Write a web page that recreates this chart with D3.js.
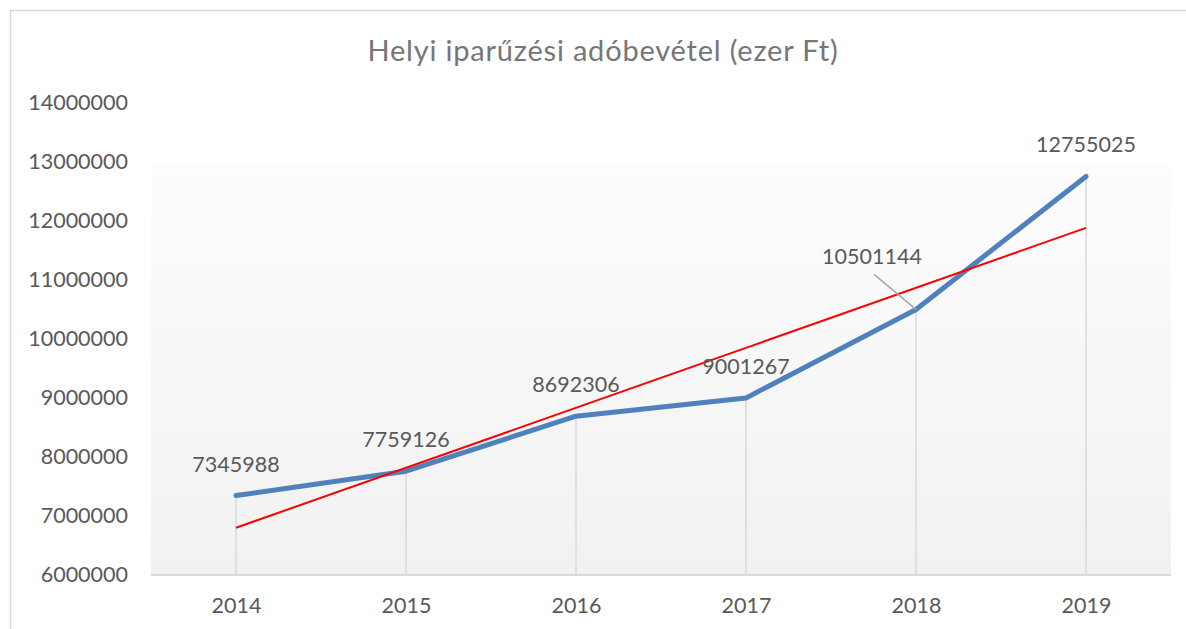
<!DOCTYPE html>
<html>
<head>
<meta charset="utf-8">
<script src="https://cdn.jsdelivr.net/npm/d3@7"></script>
<style>
  html, body { margin: 0; padding: 0; background: #fff; }
  svg { display: block; font-family: Lato, "Liberation Sans", sans-serif; }
</style>
</head>
<body>
<svg id="chart" width="1186" height="629"></svg>
<script>
const title = "Helyi iparűzési adóbevétel (ezer Ft)";
const years = ["2014", "2015", "2016", "2017", "2018", "2019"];
const revenue = [7345988, 7759126, 8692306, 9001267, 10501144, 12755025];
const yTicks = [6000000, 7000000, 8000000, 9000000, 10000000, 11000000, 12000000, 13000000, 14000000];

const svg = d3.select("#chart");
const W = 1186, H = 629;
const plot = { left: 151, right: 1171, top: 103, bottom: 575 };
const textColor = "#595959";

// outer chart frame
svg.append("rect")
  .attr("x", 10.5).attr("y", 10.5)
  .attr("width", W).attr("height", H)
  .attr("fill", "#fff").attr("stroke", "#d9d9d9").attr("stroke-width", 1.5);

const x = d3.scalePoint().domain(years).range([plot.left, plot.right]).padding(0.5);
const y = d3.scaleLinear().domain([6000000, 14000000]).range([plot.bottom, plot.top]);

// soft vertical gradient in the plot area
const defs = svg.append("defs");
const grad = defs.append("linearGradient").attr("id", "plotBg")
  .attr("x1", 0).attr("y1", 0).attr("x2", 0).attr("y2", 1);
grad.append("stop").attr("offset", "0%").attr("stop-color", "#fdfdfd");
grad.append("stop").attr("offset", "100%").attr("stop-color", "#f1f1f1");
svg.append("rect")
  .attr("x", plot.left).attr("y", y(12950000))
  .attr("width", plot.right - plot.left).attr("height", plot.bottom - y(12950000))
  .attr("fill", "url(#plotBg)");

// title
svg.append("text")
  .attr("x", 603).attr("y", 61)
  .attr("text-anchor", "middle")
  .attr("font-size", 29)
  .attr("letter-spacing", 0.8)
  .attr("fill", "#767676")
  .text(title);

// y axis labels (no line)
const yAxis = d3.axisLeft(y).tickValues(yTicks).tickSize(0).tickPadding(0).tickFormat(d3.format("d"));
const gy = svg.append("g").attr("transform", `translate(${plot.left - 23},0)`).call(yAxis);
gy.select(".domain").remove();
gy.selectAll("text").attr("font-size", 21.5).attr("fill", textColor).attr("font-family", "Lato, 'Liberation Sans', sans-serif");

// x axis
const xAxis = d3.axisBottom(x).tickSize(0).tickPadding(0);
const gx = svg.append("g").attr("transform", `translate(0,${plot.bottom})`).call(xAxis);
gx.select(".domain").attr("d", `M${plot.left},0H${plot.right}`).attr("stroke", "#d9d9d9").attr("stroke-width", 2);
gx.selectAll("text").attr("font-size", 21.5).attr("fill", textColor)
  .attr("dy", 0).attr("y", 38).attr("font-family", "Lato, 'Liberation Sans', sans-serif");

const pts = years.map((yr, i) => ({ yr, v: revenue[i] }));

// drop lines from each point to the axis
svg.append("g").selectAll("line").data(pts).join("line")
  .attr("x1", d => x(d.yr)).attr("x2", d => x(d.yr))
  .attr("y1", d => y(d.v)).attr("y2", plot.bottom)
  .attr("stroke", "#d9d9d9").attr("stroke-width", 1.5);

// linear trendline (least squares over the series)
const n = revenue.length;
const xs = d3.range(1, n + 1);
const mx = d3.mean(xs), my = d3.mean(revenue);
const slope = d3.sum(xs, (xi, i) => (xi - mx) * (revenue[i] - my)) / d3.sum(xs, xi => (xi - mx) ** 2);
const intercept = my - slope * mx;
const trend = [1, n].map(xi => ({ yr: years[xi - 1], v: intercept + slope * xi }));

// data line
const line = d3.line().x(d => x(d.yr)).y(d => y(d.v));
svg.append("path").datum(pts)
  .attr("d", line).attr("fill", "none")
  .attr("stroke", "#4f81bd").attr("stroke-width", 5)
  .attr("stroke-linejoin", "round").attr("stroke-linecap", "round");

svg.append("path").datum(trend)
  .attr("d", line).attr("fill", "none")
  .attr("stroke", "#ff0000").attr("stroke-width", 2);

// value labels; the 2018 label sits up-left with a leader line
const lbl = svg.append("g").attr("font-size", 21.5).attr("fill", textColor);
pts.forEach(d => {
  const px = x(d.yr), py = y(d.v);
  if (d.yr === "2018") {
    svg.append("line")
      .attr("x1", px - 42).attr("y1", py - 35)
      .attr("x2", px).attr("y2", py)
      .attr("stroke", "#a6a6a6").attr("stroke-width", 1.5);
    lbl.append("text").attr("x", px - 44).attr("y", py - 45)
      .attr("text-anchor", "middle").text(d.v);
  } else {
    lbl.append("text").attr("x", px).attr("y", py - 24)
      .attr("text-anchor", "middle").text(d.v);
  }
});
</script>
</body>
</html>
